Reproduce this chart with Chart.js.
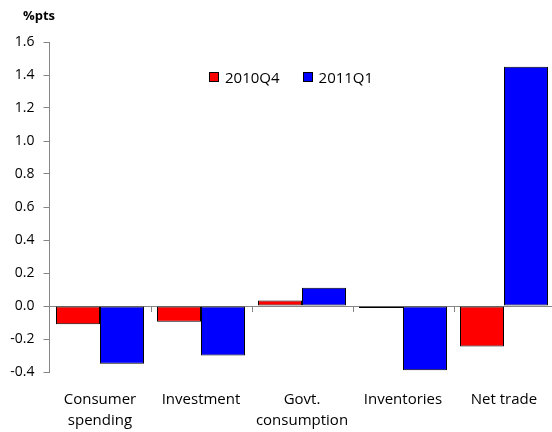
<!DOCTYPE html>
<html>
<head>
<meta charset="utf-8">
<script src="https://cdn.jsdelivr.net/npm/chart.js@4"></script>
<style>
  html, body { margin: 0; padding: 0; background: #fff; overflow: hidden; }
  #wrap { position: relative; width: 552px; height: 432px; overflow: hidden; }
  canvas { position: absolute; left: 0; top: 0; }
  #unit { position: absolute; left: 23px; top: 9px; font: bold 13px "Open Sans", sans-serif; color: #000; line-height: 13px; }
  #legend { position: absolute; left: 209px; top: 67px; display: flex; font: 15px "Open Sans", sans-serif; color: #000; line-height: 20px; }
  #legend .item { display: flex; align-items: center; margin-right: 23px; }
  #legend .box { width: 8px; height: 8px; border: 1px solid #000; margin-right: 6px; }
</style>
</head>
<body>
<div id="wrap">
  <canvas id="c" width="556" height="432"></canvas>
  <div id="unit">%pts</div>
  <div id="legend"></div>
</div>
<script>
// Contributions to GDP growth, percentage points
const categories = [["Consumer", "spending"], "Investment", ["Govt.", "consumption"], "Inventories", "Net trade"];
const seriesNames = ["2010Q4", "2011Q1"];
const values2010Q4 = [-0.11, -0.095, 0.033, -0.012, -0.245];
const values2011Q1 = [-0.35, -0.30, 0.11, -0.39, 1.45];
const yTicks = [-0.4, -0.2, 0.0, 0.2, 0.4, 0.6, 0.8, 1.0, 1.2, 1.4, 1.6];

const colors = ["#FF0000", "#0000FF"];
const axisGrey = "#868686";

// Short tick marks hanging below the zero line at each category boundary
const categoryTicks = {
  id: "categoryTicks",
  afterDraw(chart) {
    const x = chart.scales.x, y = chart.scales.y;
    const y0 = y.getPixelForValue(0);
    const n = categories.length;
    const step = (x.right - x.left) / n;
    const ctx = chart.ctx;
    ctx.save();
    ctx.strokeStyle = axisGrey;
    ctx.lineWidth = 1;
    ctx.beginPath();
    for (let i = 1; i <= n; i++) {
      const px = Math.round(x.left + i * step) + 0.5;
      ctx.moveTo(px, y0);
      ctx.lineTo(px, y0 + 6);
    }
    ctx.stroke();
    ctx.restore();
  }
};

const chart = new Chart(document.getElementById("c"), {
  type: "bar",
  data: {
    labels: categories,
    datasets: [
      { label: seriesNames[0], data: values2010Q4, backgroundColor: colors[0] },
      { label: seriesNames[1], data: values2011Q1, backgroundColor: colors[1] }
    ].map(d => Object.assign(d, {
      borderColor: "#000",
      borderWidth: 1,
      borderSkipped: false,
      categoryPercentage: 0.871,
      barPercentage: 1.0
    }))
  },
  options: {
    responsive: false,
    animation: false,
    devicePixelRatio: 1,
    layout: { padding: { top: 42, right: 1.5, left: 0, bottom: 0 } },
    plugins: {
      legend: { display: false },
      tooltip: { enabled: false }
    },
    scales: {
      x: {
        grid: { display: false, drawTicks: false },
        border: { display: false },
        ticks: {
          color: "#000",
          font: { family: "Open Sans", size: 15, lineHeight: 1.4 },
          padding: 17,
          maxRotation: 0,
          autoSkip: false
        },
        afterFit(scale) { scale.height = 60; }
      },
      y: {
        min: -0.4,
        max: 1.6,
        afterBuildTicks(scale) { scale.ticks = yTicks.map(v => ({ value: v })); },
        grid: {
          color: c => (c.tick && Math.abs(c.tick.value) < 1e-9) ? axisGrey : "rgba(0,0,0,0)",
          tickColor: axisGrey,
          tickLength: 6,
          lineWidth: 1
        },
        border: { display: true, color: axisGrey, width: 1 },
        ticks: {
          color: "#000",
          font: { family: "Open Sans", size: 14 },
          padding: 9,
          callback: v => Number(v).toFixed(1)
        },
        afterFit(scale) { scale.width = 49.5; }
      }
    }
  },
  plugins: [categoryTicks]
});

// Legend built from the series names and colours
const legend = document.getElementById("legend");
seriesNames.forEach((name, i) => {
  const item = document.createElement("div");
  item.className = "item";
  const box = document.createElement("span");
  box.className = "box";
  box.style.background = colors[i];
  const txt = document.createElement("span");
  txt.textContent = name;
  item.appendChild(box);
  item.appendChild(txt);
  legend.appendChild(item);
});
</script>
</body>
</html>
